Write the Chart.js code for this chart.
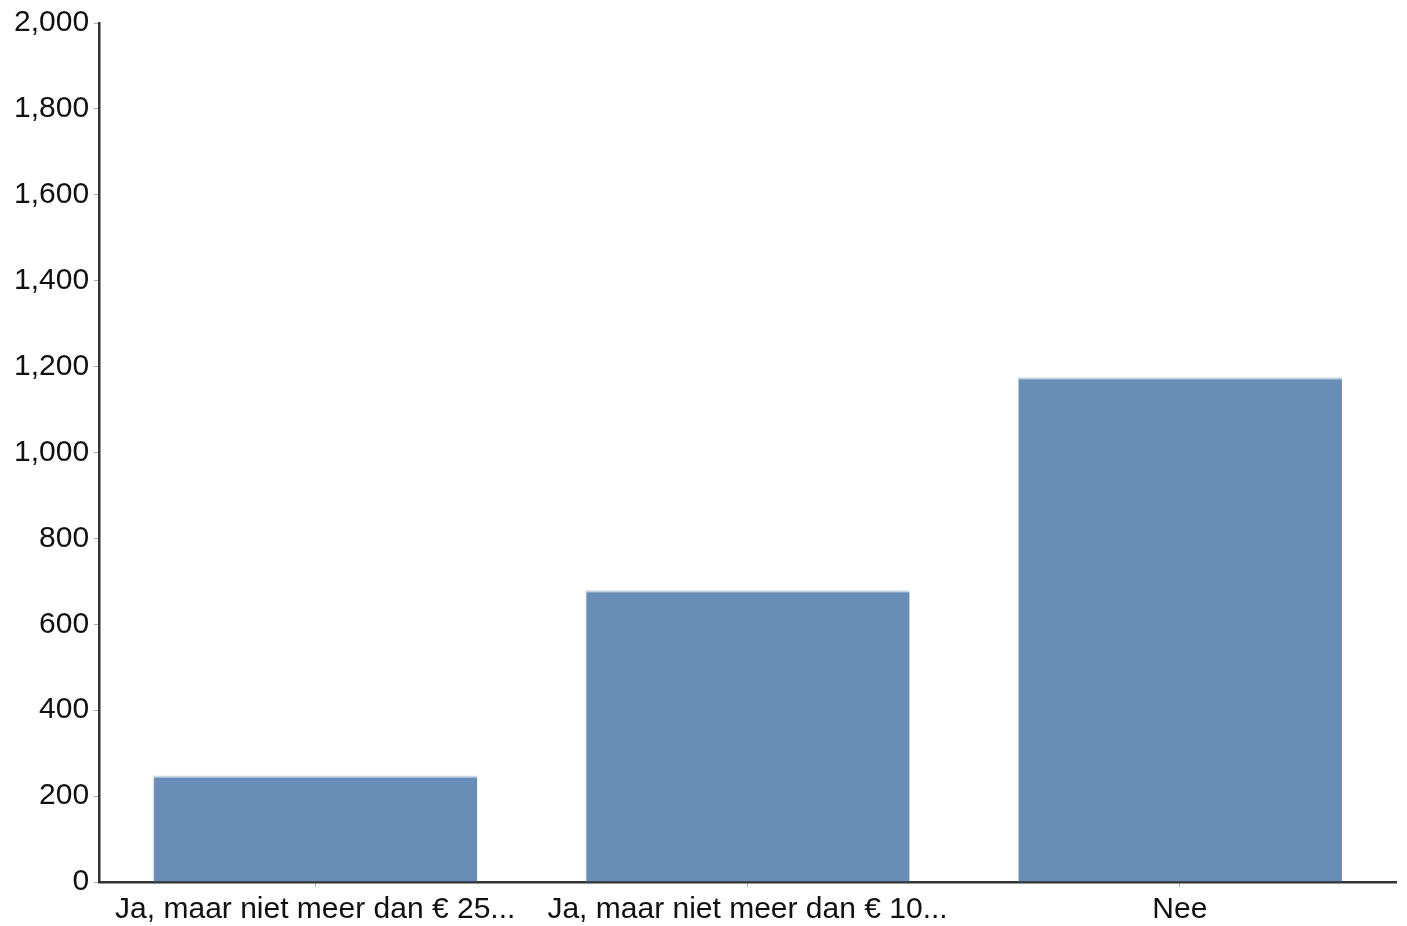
<!DOCTYPE html>
<html>
<head>
<meta charset="utf-8">
<script src="https://cdn.jsdelivr.net/npm/chart.js@4/dist/chart.umd.min.js"></script>
<style>
  html, body { margin: 0; padding: 0; background: #fff; }
  #wrap { width: 1407px; height: 926px; }
</style>
</head>
<body>
<div id="wrap"><canvas id="myChart"></canvas></div>
<script>
// categories + counts
const categories = ['Ja, maar niet meer dan € 25...', 'Ja, maar niet meer dan € 10...', 'Nee'];
const counts = [248, 679, 1175];
const yMax = 2000;
const yStep = 200;

const axisColor = '#333333';
const tickFont = { family: 'Liberation Sans, Arial, sans-serif', size: 30 };

let ctx = document.getElementById('myChart').getContext('2d');
let barChart = new Chart(ctx, {
    type: 'bar',
    data: {
        labels: categories,
        datasets: [{
            label: 'Aantal',
            data: counts,
            backgroundColor: '#688db7',
            borderColor: '#c9d4e2',
            borderWidth: {top: 2, left: 1, right: 0, bottom: 0},
            barPercentage: 0.75,
            categoryPercentage: 1
        }]
    },
    options: {
        responsive: true,
        maintainAspectRatio: false,
        animation: false,
        locale: 'en-US',
        layout: { padding: { top: 7, right: 11, left: 9, bottom: -7 } },
        plugins: {
            legend: { display: false },
            tooltip: { enabled: false }
        },
        scales: {
            x: {
                grid: { display: true, offset: false, drawOnChartArea: false, tickLength: 5, tickColor: '#aaaaaa' },
                border: { display: true, color: axisColor, width: 2.5 },
                ticks: {
                    color: '#111',
                    font: tickFont,
                    maxRotation: 0,
                    autoSkip: false,
                    padding: 5
                }
            },
            y: {
                min: 0,
                max: yMax,
                grid: { display: true, drawOnChartArea: false, tickLength: 5, tickColor: '#aaaaaa' },
                border: { display: true, color: axisColor, width: 2.5 },
                ticks: {
                    stepSize: yStep,
                    color: '#111',
                    font: tickFont,
                    padding: 5
                }
            }
        }
    }
});
</script>
</body>
</html>
